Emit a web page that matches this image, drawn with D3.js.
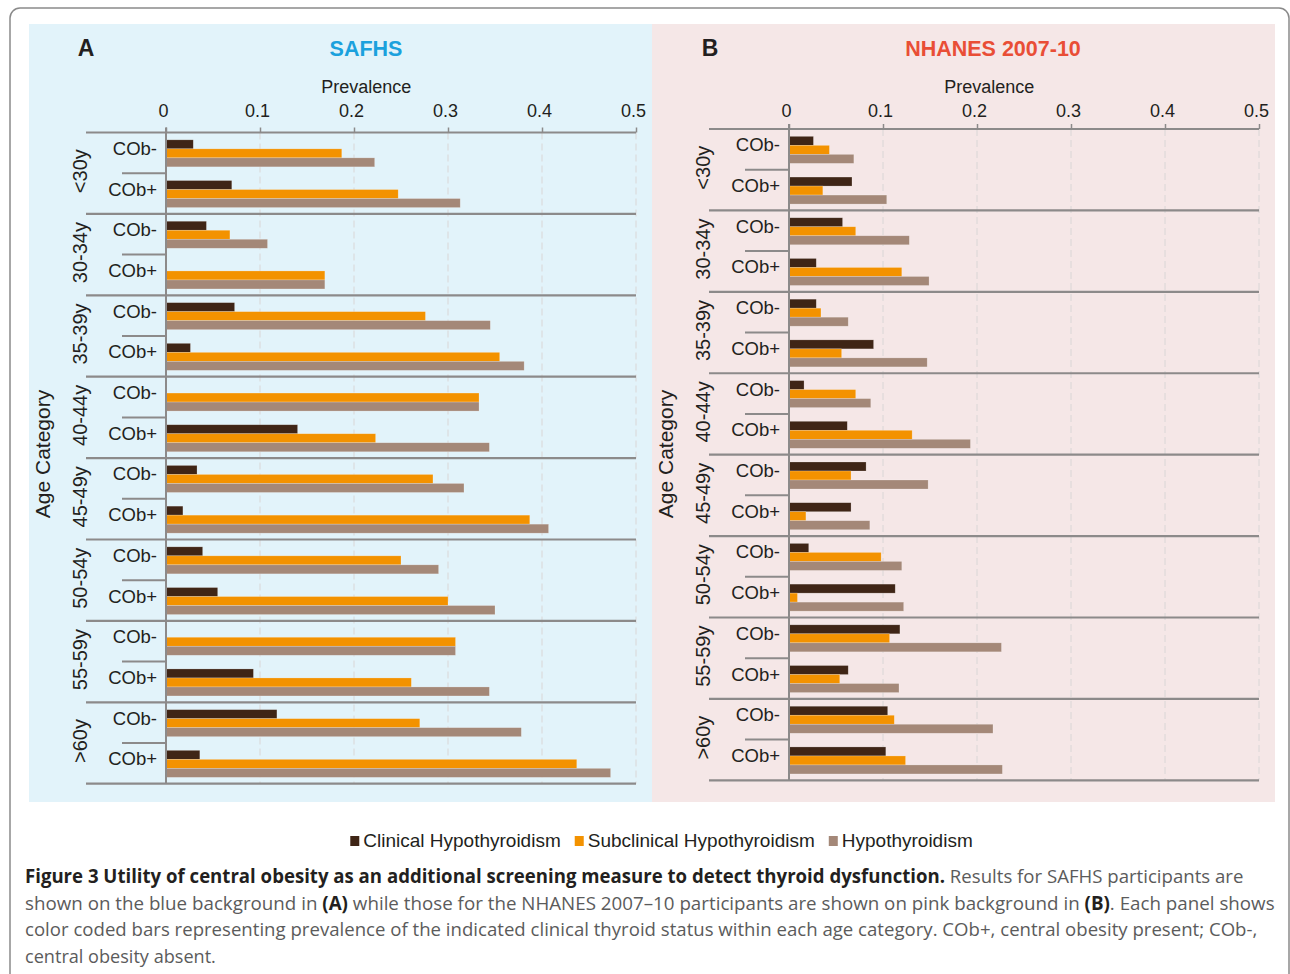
<!DOCTYPE html>
<html lang="en">
<head>
    <meta charset="UTF-8">
    <title>Thyroid dysfunction by central obesity</title>
    <script src="https://d3js.org/d3.v7.min.js"></script>
    <style>
        body { margin: 0; padding: 0; background: #fff; }
        svg { display: block; font-family: "Liberation Sans", Arial, sans-serif; }
        .caption { font-family: "Open Sans", "Noto Sans", sans-serif; }
    </style>
</head>
<body>
<svg id="chart" width="1290" height="974"></svg>

<script>
    // categories
    const ageGroups = ["<30y", "30-34y", "35-39y", "40-44y", "45-49y", "50-54y", "55-59y", ">60y"];
    const cobLevels = ["COb-", "COb+"];
    const seriesNames = ["Clinical Hypothyroidism", "Subclinical Hypothyroidism", "Hypothyroidism"];
    const tickValues = [0, 0.1, 0.2, 0.3, 0.4, 0.5];

    // values, ordered age group by age group, COb- then COb+
    const safhsClinical    = [0.029, 0.070, 0.043, 0, 0.073, 0.026, 0, 0.140, 0.033, 0.018, 0.039, 0.055, 0, 0.093, 0.118, 0.036];
    const safhsSubclinical = [0.187, 0.247, 0.068, 0.169, 0.276, 0.355, 0.333, 0.223, 0.284, 0.387, 0.250, 0.300, 0.308, 0.261, 0.270, 0.437];
    const safhsHypo        = [0.222, 0.313, 0.108, 0.169, 0.345, 0.381, 0.333, 0.344, 0.317, 0.407, 0.290, 0.350, 0.308, 0.344, 0.378, 0.473];

    const nhanesClinical    = [0.026, 0.067, 0.057, 0.029, 0.029, 0.090, 0.016, 0.062, 0.082, 0.066, 0.021, 0.113, 0.118, 0.063, 0.105, 0.103];
    const nhanesSubclinical = [0.043, 0.036, 0.071, 0.120, 0.034, 0.056, 0.071, 0.131, 0.066, 0.018, 0.098, 0.009, 0.107, 0.054, 0.112, 0.124];
    const nhanesHypo        = [0.069, 0.104, 0.128, 0.149, 0.063, 0.147, 0.087, 0.193, 0.148, 0.086, 0.120, 0.122, 0.226, 0.117, 0.217, 0.227];

    const colors = ["#3f2516", "#f39200", "#a48878"];
    const lineColor = "#8c8a8a";

    const svg = d3.select("#chart");

    // outer frame
    svg.append("rect")
        .attr("x", 10).attr("y", 8)
        .attr("width", 1279).attr("height", 1000)
        .attr("rx", 10)
        .attr("fill", "none")
        .attr("stroke", "#8a8a8a")
        .attr("stroke-width", 1.5);

    function toRows(clinical, subclinical, hypo) {
        const rows = [];
        ageGroups.forEach((age, i) => {
            cobLevels.forEach((cob, j) => {
                const k = i * 2 + j;
                rows.push({ age, cob, values: [clinical[k], subclinical[k], hypo[k]] });
            });
        });
        return rows;
    }

    function drawPanel(p) {
        const g = svg.append("g");

        g.append("rect")
            .attr("x", p.bgX).attr("y", 24)
            .attr("width", p.bgW).attr("height", 778)
            .attr("fill", p.bg);

        const x = d3.scaleLinear().domain([0, 0.5]).range([p.x0, p.x1]);
        const yAge = d3.scaleBand().domain(ageGroups).range([p.top, p.bottom]);
        const yCob = d3.scaleBand().domain(cobLevels).range([0, yAge.bandwidth()]);
        const ySer = d3.scaleBand().domain(seriesNames).range([0, yCob.bandwidth()])
            .paddingInner(0).paddingOuter(0.76);

        // dashed grid
        g.selectAll(".grid")
            .data(tickValues.slice(1))
            .enter().append("line")
            .attr("x1", d => x(d)).attr("x2", d => x(d))
            .attr("y1", p.top).attr("y2", p.bottom)
            .attr("stroke", "#d9d6d6")
            .attr("stroke-width", 1)
            .attr("stroke-dasharray", "7,4");

        // top axis labels
        const axis = g.append("g")
            .attr("transform", `translate(0,${p.top})`)
            .call(d3.axisTop(x).tickValues(tickValues).tickFormat(d => d)
                .tickSize(5).tickPadding(p.top - 122));
        axis.select(".domain").remove();
        axis.selectAll(".tick line").attr("stroke", lineColor).attr("stroke-width", 1.5);
        axis.selectAll(".tick text")
            .attr("x", -3)
            .attr("fill", "#231f20")
            .style("font-size", "18px")
            .style("font-family", "'Liberation Sans', Arial, sans-serif");

        g.append("text")
            .attr("x", x(0.213)).attr("y", 93)
            .attr("text-anchor", "middle")
            .attr("fill", "#231f20")
            .style("font-size", "18px")
            .text("Prevalence");

        // bars
        const rows = toRows(p.clinical, p.subclinical, p.hypo);
        const rowG = g.selectAll(".row")
            .data(rows)
            .enter().append("g")
            .attr("transform", d => `translate(0,${yAge(d.age) + yCob(d.cob)})`);

        rowG.selectAll("rect")
            .data(d => d.values.map((v, i) => ({ v, s: seriesNames[i], c: colors[i] })))
            .enter().append("rect")
            .attr("x", x(0))
            .attr("y", d => ySer(d.s) + 0.5)
            .attr("width", d => x(d.v) - x(0))
            .attr("height", ySer.bandwidth())
            .attr("fill", d => d.c)
            .attr("stroke", "rgba(255,255,255,0.35)")
            .attr("stroke-width", 0.6);

        rowG.append("text")
            .attr("x", p.x0 - 9)
            .attr("y", yCob.bandwidth() / 2 + 2)
            .attr("text-anchor", "end")
            .attr("fill", "#231f20")
            .style("font-size", "18.5px")
            .text(d => d.cob);

        // separators
        const bounds = ageGroups.map(a => yAge(a)).concat([p.bottom]);
        g.selectAll(".sep")
            .data(bounds)
            .enter().append("line")
            .attr("x1", p.x0 - 80).attr("x2", p.x1)
            .attr("y1", d => d).attr("y2", d => d)
            .attr("stroke", lineColor)
            .attr("stroke-width", 2.2);

        g.selectAll(".subsep")
            .data(ageGroups)
            .enter().append("line")
            .attr("x1", p.x0 - 44).attr("x2", p.x0)
            .attr("y1", d => yAge(d) + yCob.bandwidth())
            .attr("y2", d => yAge(d) + yCob.bandwidth())
            .attr("stroke", lineColor)
            .attr("stroke-width", 2);

        g.append("line")
            .attr("x1", x(0)).attr("x2", x(0))
            .attr("y1", p.top - 5).attr("y2", p.bottom)
            .attr("stroke", lineColor)
            .attr("stroke-width", 2);

        // age labels
        g.selectAll(".age")
            .data(ageGroups)
            .enter().append("text")
            .attr("transform", d => `translate(${p.x0 - 79},${yAge(d) + yAge.bandwidth() / 2 - 2}) rotate(-90)`)
            .attr("text-anchor", "middle")
            .attr("fill", "#231f20")
            .style("font-size", "20px")
            .text(d => d);

        g.append("text")
            .attr("transform", `translate(${p.x0 - 116},454) rotate(-90)`)
            .attr("text-anchor", "middle")
            .attr("fill", "#231f20")
            .style("font-size", "21px")
            .text("Age Category");

        // panel letter and title
        g.append("text")
            .attr("x", p.letterX).attr("y", 56)
            .attr("text-anchor", "middle")
            .attr("fill", "#231f20")
            .style("font-size", "23px").style("font-weight", "bold")
            .text(p.letter);

        g.append("text")
            .attr("x", p.titleX).attr("y", 56)
            .attr("text-anchor", "middle")
            .attr("fill", p.titleColor)
            .style("font-size", "21.5px").style("font-weight", "bold")
            .text(p.title);
    }

    drawPanel({
        bgX: 29, bgW: 623, bg: "#e2f3fa",
        x0: 166, x1: 636, top: 132.5, bottom: 783.7,
        letter: "A", letterX: 86, title: "SAFHS", titleX: 366, titleColor: "#1ba1dd",
        clinical: safhsClinical, subclinical: safhsSubclinical, hypo: safhsHypo
    });

    drawPanel({
        bgX: 652, bgW: 623, bg: "#f5e7e7",
        x0: 789, x1: 1259, top: 129, bottom: 780.3,
        letter: "B", letterX: 710, title: "NHANES 2007-10", titleX: 993, titleColor: "#e94e36",
        clinical: nhanesClinical, subclinical: nhanesSubclinical, hypo: nhanesHypo
    });

    // legend
    const legend = svg.append("g");
    let lx = 0;
    seriesNames.forEach((name, i) => {
        const it = legend.append("g").attr("transform", `translate(${lx},0)`);
        it.append("rect").attr("x", 0).attr("y", 836).attr("width", 9).attr("height", 10).attr("fill", colors[i]);
        const t = it.append("text").attr("x", 13).attr("y", 847)
            .attr("fill", "#231f20").style("font-size", "19px").text(name);
        lx += 13 + t.node().getComputedTextLength() + 14;
    });
    const legendW = lx - 14;
    legend.attr("transform", `translate(${661.5 - legendW / 2},0)`);

    // caption
    const captionLines = [
        { w: 1219, parts: [["b", "Figure 3 Utility of central obesity as an additional screening measure to detect thyroid dysfunction."], ["n", " Results for SAFHS participants are"]] },
        { w: 1250, parts: [["n", "shown on the blue background in "], ["b", "(A)"], ["n", " while those for the NHANES 2007\u201310 participants are shown on pink background in "], ["b", "(B)"], ["n", ". Each panel shows"]] },
        { w: 1233, parts: [["n", "color coded bars representing prevalence of the indicated clinical thyroid status within each age category. COb+, central obesity present; COb-,"]] },
        { w: 191, parts: [["n", "central obesity absent."]] }
    ];
    captionLines.forEach((line, i) => {
        const t = svg.append("text")
            .attr("class", "caption")
            .attr("x", 0).attr("y", 0)
            .style("font-size", "19px");
        line.parts.forEach(([kind, txt]) => {
            t.append("tspan")
                .attr("fill", kind === "b" ? "#231f20" : "#5b5b5b")
                .style("font-weight", kind === "b" ? "bold" : "normal")
                .text(txt);
        });
        const natural = t.node().getComputedTextLength();
        t.attr("transform", `translate(25,${883 + i * 26.7}) scale(${line.w / natural},1)`);
    });
</script>
</body>
</html>
